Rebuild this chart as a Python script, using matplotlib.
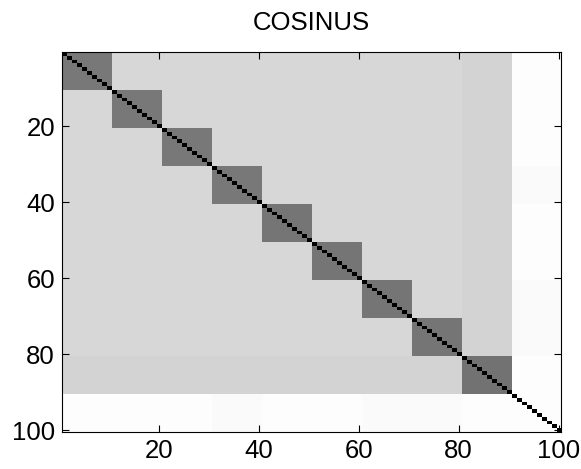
import numpy as np
import matplotlib
matplotlib.use("Agg")
import matplotlib.pyplot as plt

plt.rcParams['font.family'] = ['Liberation Sans', 'DejaVu Sans']

title = "COSINUS"
n_docs = 100
group_size = 10
# mean cosine-similarity level per 10x10 block (rows = block i, cols = block j)
block_levels = [
    [0.53, 0.16, 0.16, 0.16, 0.16, 0.16, 0.16, 0.16, 0.17, 0.01],
    [0.16, 0.53, 0.16, 0.16, 0.16, 0.16, 0.16, 0.16, 0.17, 0.01],
    [0.16, 0.16, 0.53, 0.16, 0.16, 0.16, 0.16, 0.16, 0.17, 0.01],
    [0.16, 0.16, 0.16, 0.53, 0.16, 0.16, 0.16, 0.16, 0.17, 0.02],
    [0.16, 0.16, 0.16, 0.16, 0.54, 0.16, 0.16, 0.16, 0.17, 0.01],
    [0.16, 0.16, 0.16, 0.16, 0.16, 0.54, 0.16, 0.16, 0.17, 0.01],
    [0.16, 0.16, 0.16, 0.16, 0.16, 0.16, 0.54, 0.16, 0.17, 0.02],
    [0.16, 0.16, 0.16, 0.16, 0.16, 0.16, 0.16, 0.54, 0.17, 0.02],
    [0.17, 0.17, 0.17, 0.17, 0.17, 0.17, 0.17, 0.17, 0.55, 0.01],
    [0.01, 0.01, 0.01, 0.02, 0.01, 0.01, 0.02, 0.02, 0.01, 0.01],
]
diagonal_value = 1.0
xticks = [20, 40, 60, 80, 100]
yticks = [20, 40, 60, 80, 100]

# expand block table to the document-by-document matrix
M = np.kron(np.array(block_levels), np.ones((group_size, group_size)))
np.fill_diagonal(M, diagonal_value)

fig = plt.figure(figsize=(5.81, 4.69), dpi=100)
ax = fig.add_axes([0.1067, 0.0789, 0.8589, 0.8102])
ax.imshow(M, cmap='gray_r', vmin=0, vmax=1, aspect='auto',
          interpolation='nearest', extent=(0.5, n_docs + 0.5, n_docs + 0.5, 0.5))
ax.set_xlim(0.5, n_docs + 0.5)
ax.set_ylim(n_docs + 0.5, 0.5)
ax.set_xticks(xticks)
ax.set_yticks(yticks)
ax.tick_params(direction='in', top=True, right=True, labelsize=18.5, length=5, width=0.8, pad=5)
ax.set_title(title, fontsize=18.5, pad=16)
for s in ax.spines.values():
    s.set_linewidth(0.8)
fig.savefig("out.png", dpi=100)
